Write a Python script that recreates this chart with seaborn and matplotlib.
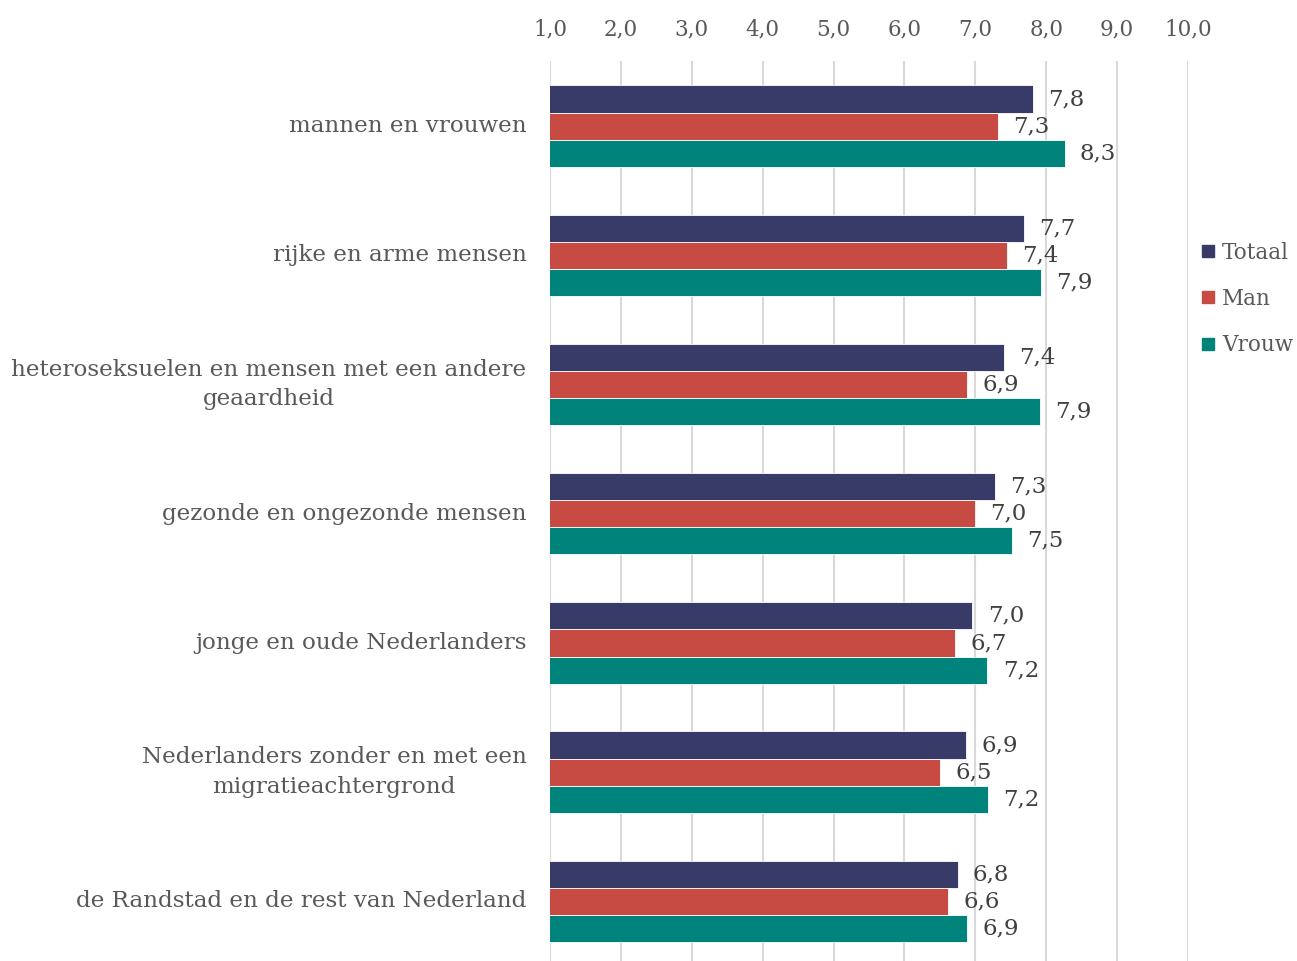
import pandas as pd
import matplotlib.pyplot as plt
import seaborn as sns

categories = [
    "mannen en vrouwen",
    "rijke en arme mensen",
    "heteroseksuelen en mensen met een andere\ngeaardheid",
    "gezonde en ongezonde mensen",
    "jonge en oude Nederlanders",
    "Nederlanders zonder en met een\nmigratieachtergrond",
    "de Randstad en de rest van Nederland",
]
totaal = [7.81, 7.69, 7.40, 7.28, 6.96, 6.87, 6.75]
man = [7.32, 7.44, 6.88, 6.99, 6.71, 6.50, 6.62]
vrouw = [8.26, 7.93, 7.91, 7.52, 7.17, 7.18, 6.88]
groups = ["Totaal", "Man", "Vrouw"]
colors = {"Totaal": "#383A68", "Man": "#C84B43", "Vrouw": "#00837A"}
xticks = [1, 2, 3, 4, 5, 6, 7, 8, 9, 10]


def comma(v):
    return f"{v:.1f}".replace(".", ",")


def build_frame():
    rows = []
    for name, vals in zip(groups, [totaal, man, vrouw]):
        for cat, v in zip(categories, vals):
            rows.append({"categorie": cat, "groep": name, "score": v})
    return pd.DataFrame(rows)


def plot_chart(df):
    sns.set_style("white")
    plt.rcParams["font.family"] = ["DejaVu Serif"]
    fig = plt.figure(figsize=(12.97, 9.61), dpi=100)
    ax = fig.add_axes([550 / 1297, 1 - 966 / 961, 638 / 1297, (966 - 61.5) / 961])

    sns.barplot(data=df, y="categorie", x="score", hue="groep", hue_order=groups,
                order=categories, palette=colors, width=0.63, orient="h",
                edgecolor="white", linewidth=0.6, saturation=1, ax=ax, zorder=3)

    ax.set_xlim(1, 10)
    ax.set_xticks(xticks)
    ax.set_xticklabels([comma(t) for t in xticks])
    ax.xaxis.tick_top()
    ax.grid(axis="x", color="#D9D9D9", linewidth=1.5, zorder=0)
    ax.grid(axis="y", visible=False)
    for s in ax.spines.values():
        s.set_visible(False)
    ax.tick_params(axis="x", length=0, pad=15, labelsize=15.5, labelcolor="#595959")
    ax.tick_params(axis="y", length=0, pad=17, labelsize=16.6, labelcolor="#595959")
    for lab in ax.get_yticklabels():
        lab.set_multialignment("center")
        lab.set_linespacing(1.45)
        lab.set_verticalalignment("center")
    ax.set_xlabel("")
    ax.set_ylabel("")

    for cont, vals in zip(ax.containers, [totaal, man, vrouw]):
        ax.bar_label(cont, labels=[comma(v) for v in vals], padding=11,
                     fontsize=16.5, color="#404040", clip_on=False)

    handles = [plt.Line2D([], [], marker="s", linestyle="", markersize=8,
                          color=colors[g]) for g in groups]
    ax.get_legend().remove()
    fig.legend(handles, groups, loc="center left", bbox_to_anchor=(1192 / 1297, 1 - 299 / 961),
               frameon=False, fontsize=15.5, labelcolor="#595959", handlelength=0.7,
               handletextpad=0.3, labelspacing=1.12, borderaxespad=0)

    fig.savefig("out.png", dpi=100)


if __name__ == "__main__":
    plot_chart(build_frame())
